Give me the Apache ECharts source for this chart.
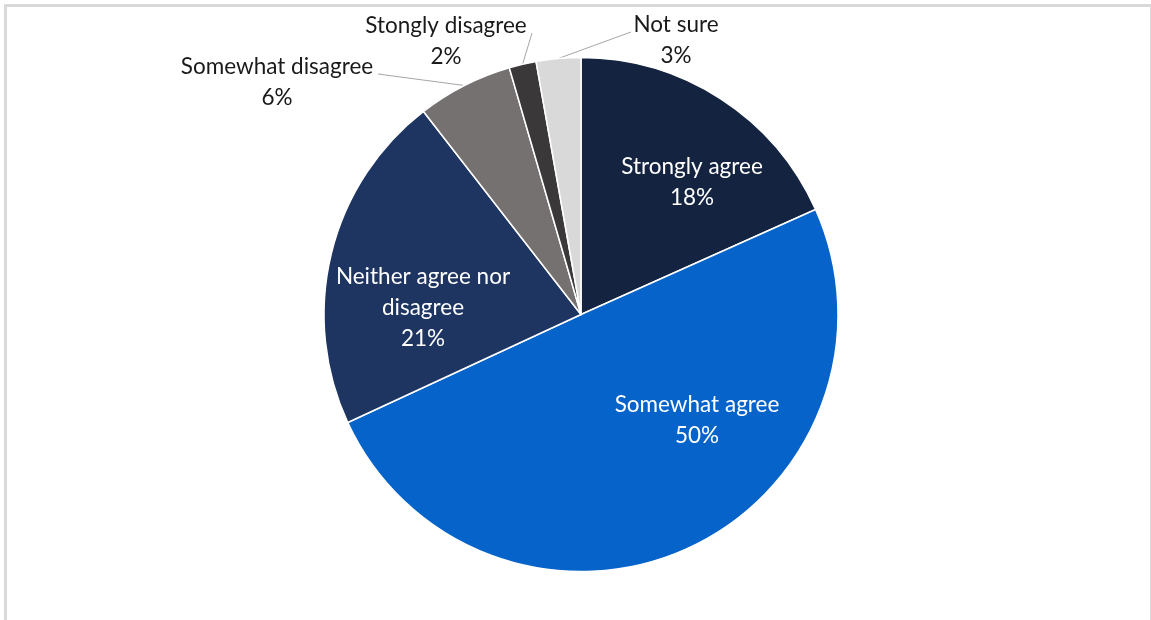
<!DOCTYPE html>
<html lang="en">
<head>
    <meta charset="UTF-8">
    <title>Pie</title>
    <script src="https://fastly.jsdelivr.net/npm/echarts@6/dist/echarts.min.js"></script>
    <style>
        html, body { margin: 0; padding: 0; background: #fff; }
    </style>
</head>
<body>
    <div id="dv" style="width:1151px;height:620px;"></div>
</body>
<script>
var categories = ['Strongly agree', 'Somewhat agree', 'Neither agree nor disagree', 'Somewhat disagree', 'Stongly disagree', 'Not sure'];
var shares = [18.3, 49.8, 21.4, 6.0, 1.7, 2.8];

var colors = ['#14233f', '#0563c9', '#1f3561', '#767171', '#3a3838', '#d9d9d9'];
var isInside = [true, true, true, false, false, false];
// label block centres, and where the leader line meets the label
var labelPos = [[692, 182], [697, 420], [423, 308], [277, 82], [446, 41], [676, 40]];
var lineEnd = [null, null, null, [378, 74], [532, 33], [631, 32]];

var dv = document.getElementById('dv');
var myChart = echarts.init(dv);

var seriesData = [];
categories.forEach(function (item, index) {
    seriesData.push({
        name: item,
        value: shares[index],
        itemStyle: { color: colors[index] },
        label: {
            color: isInside[index] ? '#ffffff' : '#1a1a1a'
        },
        labelLine: { show: !isInside[index] }
    });
});

var option = {
    backgroundColor: '#ffffff',
    animation: false,
    graphic: [{
        type: 'rect',
        shape: { x: 5.5, y: 5.5, width: 1146, height: 700 },
        style: { fill: 'none', stroke: '#d9d9d9', lineWidth: 3 },
        silent: true
    }],
    series: [{
        type: 'pie',
        center: [581, 314.5],
        radius: 257,
        startAngle: 90,
        clockwise: true,
        itemStyle: { borderColor: '#ffffff', borderWidth: 1.5 },
        label: {
            show: true,
            position: 'outside',
            fontFamily: 'Lato',
            fontSize: 22.5,
            lineHeight: 31,
            align: 'center',
            formatter: function (p) {
                var name = p.name;
                if (name.length > 20) {
                    var cut = name.lastIndexOf(' ');
                    name = name.slice(0, cut) + '\n' + name.slice(cut + 1);
                }
                return name + '\n' + Math.round(p.value) + '%';
            }
        },
        labelLine: {
            length: 10,
            length2: 10,
            lineStyle: { color: '#a6a6a6', width: 1 }
        },
        labelLayout: function (params) {
            var i = params.dataIndex;
            var res = {
                x: labelPos[i][0],
                y: labelPos[i][1],
                align: 'center',
                verticalAlign: 'middle'
            };
            if (lineEnd[i] && params.labelLinePoints) {
                var p0 = params.labelLinePoints[0];
                res.labelLinePoints = [p0, lineEnd[i], lineEnd[i]];
            }
            return res;
        },
        data: seriesData
    }]
};
myChart.setOption(option);
</script>
</html>
